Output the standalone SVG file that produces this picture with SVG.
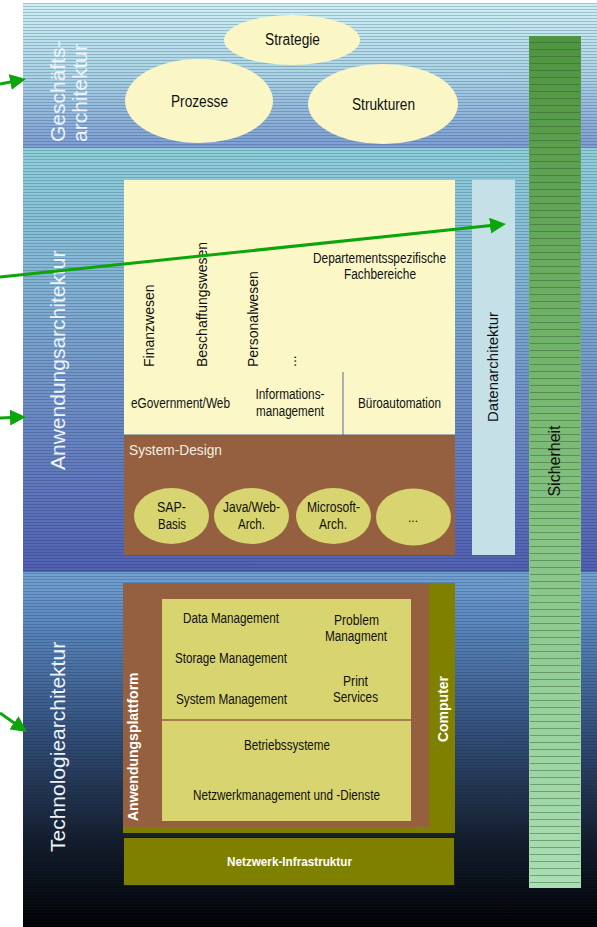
<svg xmlns="http://www.w3.org/2000/svg" width="597" height="927" viewBox="0 0 597 927">
<defs>
<linearGradient id="g1" x1="0" y1="3" x2="0" y2="148" gradientUnits="userSpaceOnUse">
<stop offset="0" stop-color="#cdf0f3"/><stop offset="0.5" stop-color="#a9d3e4"/><stop offset="1" stop-color="#7c9dd2"/>
</linearGradient>
<linearGradient id="g2" x1="0" y1="148" x2="0" y2="572" gradientUnits="userSpaceOnUse">
<stop offset="0" stop-color="#8fd0da"/><stop offset="0.3" stop-color="#84b6d4"/><stop offset="0.65" stop-color="#6a88c2"/><stop offset="1" stop-color="#5260b2"/>
</linearGradient>
<linearGradient id="g3" x1="0" y1="572" x2="0" y2="927" gradientUnits="userSpaceOnUse">
<stop offset="0" stop-color="#72a2d2"/><stop offset="0.15" stop-color="#5a86bc"/><stop offset="0.45" stop-color="#33507a"/><stop offset="0.75" stop-color="#141e2c"/><stop offset="1" stop-color="#000000"/>
</linearGradient>
<linearGradient id="gs" x1="0" y1="36" x2="0" y2="888" gradientUnits="userSpaceOnUse">
<stop offset="0" stop-color="#4f9440"/><stop offset="0.45" stop-color="#7aba74"/><stop offset="1" stop-color="#aadeb4"/>
</linearGradient>
<pattern id="stripes" patternUnits="userSpaceOnUse" width="8" height="3">
<rect x="0" y="0" width="8" height="1" fill="#14204a" fill-opacity="0.22"/>
</pattern>
<pattern id="gstripes" patternUnits="userSpaceOnUse" x="0" y="36" width="8" height="7">
<rect x="0" y="6" width="8" height="1" fill="#2c5a2c" fill-opacity="0.45"/>
</pattern>
<marker id="ah" markerUnits="userSpaceOnUse" markerWidth="17" markerHeight="16" refX="8" refY="8" orient="auto">
<path d="M0,0 L16,8 L0,16 Z" fill="#0aa60a"/>
</marker>
</defs>
<style>
.lbl{font-family:"Liberation Sans",Arial,sans-serif;font-size:14px;fill:#111;}
.mid{text-anchor:middle;}
.big{font-family:"Liberation Sans",Arial,sans-serif;font-size:16px;fill:#111;text-anchor:middle;}
.arch{font-family:"Liberation Sans",Arial,sans-serif;font-size:21px;fill:#eef3f8;}
.wb{font-family:"Liberation Sans",Arial,sans-serif;font-weight:bold;fill:#ffffff;}
.ell{fill:#faf6c6;}
.sell{fill:#d8d470;}
.brown{fill:#95603f;}
.olive{fill:#808000;}
.conn{stroke:#0aa60a;stroke-width:3;fill:none;marker-end:url(#ah);}
</style>

<g id="background">
<rect x="23" y="3" width="574" height="145" fill="url(#g1)"/>
<rect x="23" y="148" width="574" height="424" fill="url(#g2)"/>
<rect x="23" y="572" width="574" height="355" fill="url(#g3)"/>
<rect x="23" y="3" width="574" height="924" fill="url(#stripes)"/>
</g>

<g id="geschaeftsarchitektur">
<text class="arch" transform="translate(65,142) rotate(-90)">Geschäfts-</text>
<text class="arch" transform="translate(87,142) rotate(-90)">architektur</text>
</g>
<g id="anwendungsarchitektur">
<text class="arch" transform="translate(65,470) rotate(-90)">Anwendungsarchitektur</text>
</g>
<g id="technologiearchitektur">
<text class="arch" transform="translate(65,852) rotate(-90)">Technologiearchitektur</text>
</g>

<g id="sicherheit">
<rect x="529" y="36" width="52" height="852" fill="url(#gs)"/>
<rect x="530" y="36" width="50" height="852" fill="url(#gstripes)"/>
<text class="lbl mid" style="font-size:16px" transform="translate(560,461) rotate(-90)">Sicherheit</text>
</g>

<g id="strategie">
<ellipse class="ell" cx="292" cy="40" rx="68" ry="25"/>
<text class="big" x="292.5" y="45" textLength="55" lengthAdjust="spacingAndGlyphs">Strategie</text>
</g>
<g id="prozesse">
<ellipse class="ell" cx="199" cy="101" rx="74" ry="42"/>
<text class="big" x="199.5" y="107" textLength="57" lengthAdjust="spacingAndGlyphs">Prozesse</text>
</g>
<g id="strukturen">
<ellipse class="ell" cx="383" cy="104" rx="75" ry="40"/>
<text class="big" x="383.5" y="110" textLength="63" lengthAdjust="spacingAndGlyphs">Strukturen</text>
</g>

<g id="fachbereiche">
<rect x="124" y="180" width="331" height="255" fill="#fbf7c7"/>
<line x1="343" y1="372" x2="343" y2="435" stroke="#5b6b9c" stroke-width="1"/>
<text class="lbl" transform="translate(154,367) rotate(-90)">Finanzwesen</text>
<text class="lbl" transform="translate(207,367) rotate(-90)">Beschaffungswesen</text>
<text class="lbl" transform="translate(258,367) rotate(-90)">Personalwesen</text>
<text class="lbl" transform="translate(296,367) rotate(-90)">...</text>
<text class="lbl mid" x="379.5" y="263" textLength="133" lengthAdjust="spacingAndGlyphs">Departementsspezifische</text>
<text class="lbl mid" x="380" y="279" textLength="72" lengthAdjust="spacingAndGlyphs">Fachbereiche</text>
<text class="lbl" x="131" y="408" textLength="99" lengthAdjust="spacingAndGlyphs">eGovernment/Web</text>
<text class="lbl mid" x="290" y="399" textLength="69" lengthAdjust="spacingAndGlyphs">Informations-</text>
<text class="lbl mid" x="290" y="416" textLength="68" lengthAdjust="spacingAndGlyphs">management</text>
<text class="lbl mid" x="399.5" y="408" textLength="83" lengthAdjust="spacingAndGlyphs">Büroautomation</text>
</g>

<g id="system-design">
<rect class="brown" x="124" y="435" width="331" height="120"/>
<line x1="124" y1="435" x2="455" y2="435" stroke="#55658f" stroke-width="1"/>
<text x="129" y="455" style="font-family:'Liberation Sans',Arial,sans-serif;font-size:14px;fill:#f4efe2" textLength="93" lengthAdjust="spacingAndGlyphs">System-Design</text>
</g>
<g id="sap-basis">
<ellipse class="sell" cx="171.5" cy="516" rx="37.5" ry="28"/>
<text class="lbl mid" x="171.5" y="512" textLength="29" lengthAdjust="spacingAndGlyphs">SAP-</text>
<text class="lbl mid" x="172" y="529" textLength="28" lengthAdjust="spacingAndGlyphs">Basis</text>
</g>
<g id="java-web">
<ellipse class="sell" cx="251.5" cy="516" rx="37.5" ry="28"/>
<text class="lbl mid" x="251.5" y="512" textLength="57" lengthAdjust="spacingAndGlyphs">Java/Web-</text>
<text class="lbl mid" x="251.5" y="529" textLength="27" lengthAdjust="spacingAndGlyphs">Arch.</text>
</g>
<g id="microsoft">
<ellipse class="sell" cx="333.5" cy="516" rx="37.5" ry="28"/>
<text class="lbl mid" x="333.5" y="512" textLength="53" lengthAdjust="spacingAndGlyphs">Microsoft-</text>
<text class="lbl mid" x="333" y="529" textLength="28" lengthAdjust="spacingAndGlyphs">Arch.</text>
</g>
<g id="weitere">
<ellipse class="sell" cx="413.5" cy="517" rx="37.5" ry="28.5"/>
<text class="lbl mid" x="413" y="522" style="font-size:12px">...</text>
</g>

<g id="datenarchitektur">
<rect x="472" y="180" width="43" height="375" fill="#c5e0e6"/>
<text class="lbl mid" style="font-size:15px" transform="translate(498,367) rotate(-90)">Datenarchitektur</text>
</g>

<g id="computer">
<rect class="olive" x="123" y="583" width="332" height="250"/>
<text class="wb" style="font-size:14px;text-anchor:middle" transform="translate(448,709) rotate(-90)">Computer</text>
</g>
<g id="anwendungsplattform">
<rect class="brown" x="123" y="583" width="306" height="244"/>
<text class="wb" style="font-size:14px" transform="translate(138,821) rotate(-90)">Anwendungsplattform</text>
</g>
<g id="plattform-dienste">
<rect x="162" y="599" width="249" height="222" fill="#d8d470"/>
<line x1="162" y1="720" x2="411" y2="720" stroke="#95603f" stroke-width="1.5"/>
<text class="lbl mid" x="231" y="623" textLength="96" lengthAdjust="spacingAndGlyphs">Data Management</text>
<text class="lbl mid" x="231" y="663" textLength="112" lengthAdjust="spacingAndGlyphs">Storage Management</text>
<text class="lbl mid" x="231.5" y="704" textLength="111" lengthAdjust="spacingAndGlyphs">System Management</text>
<text class="lbl mid" x="356.5" y="625" textLength="45" lengthAdjust="spacingAndGlyphs">Problem</text>
<text class="lbl mid" x="356" y="641" textLength="62" lengthAdjust="spacingAndGlyphs">Managment</text>
<text class="lbl mid" x="355.5" y="686" textLength="25" lengthAdjust="spacingAndGlyphs">Print</text>
<text class="lbl mid" x="355.5" y="702" textLength="45" lengthAdjust="spacingAndGlyphs">Services</text>
<text class="lbl mid" x="287" y="750" textLength="86" lengthAdjust="spacingAndGlyphs">Betriebssysteme</text>
<text class="lbl mid" x="286.5" y="800" textLength="187" lengthAdjust="spacingAndGlyphs">Netzwerkmanagement und -Dienste</text>
</g>

<g id="netzwerk-infrastruktur">
<rect class="olive" x="123.5" y="837.5" width="331" height="48" stroke="#1a1a1a" stroke-width="1"/>
<text class="wb" style="font-size:12.5px;text-anchor:middle" x="289.5" y="866" textLength="125" lengthAdjust="spacingAndGlyphs">Netzwerk-Infrastruktur</text>
</g>

<g id="connectors">
<line class="conn" x1="0" y1="84" x2="18.1" y2="80.5"/>
<line class="conn" x1="0" y1="277" x2="498" y2="224.8"/>
<line class="conn" x1="0" y1="418" x2="18" y2="417.3"/>
<line class="conn" x1="0" y1="713" x2="20.5" y2="727.4"/>
</g>
</svg>
